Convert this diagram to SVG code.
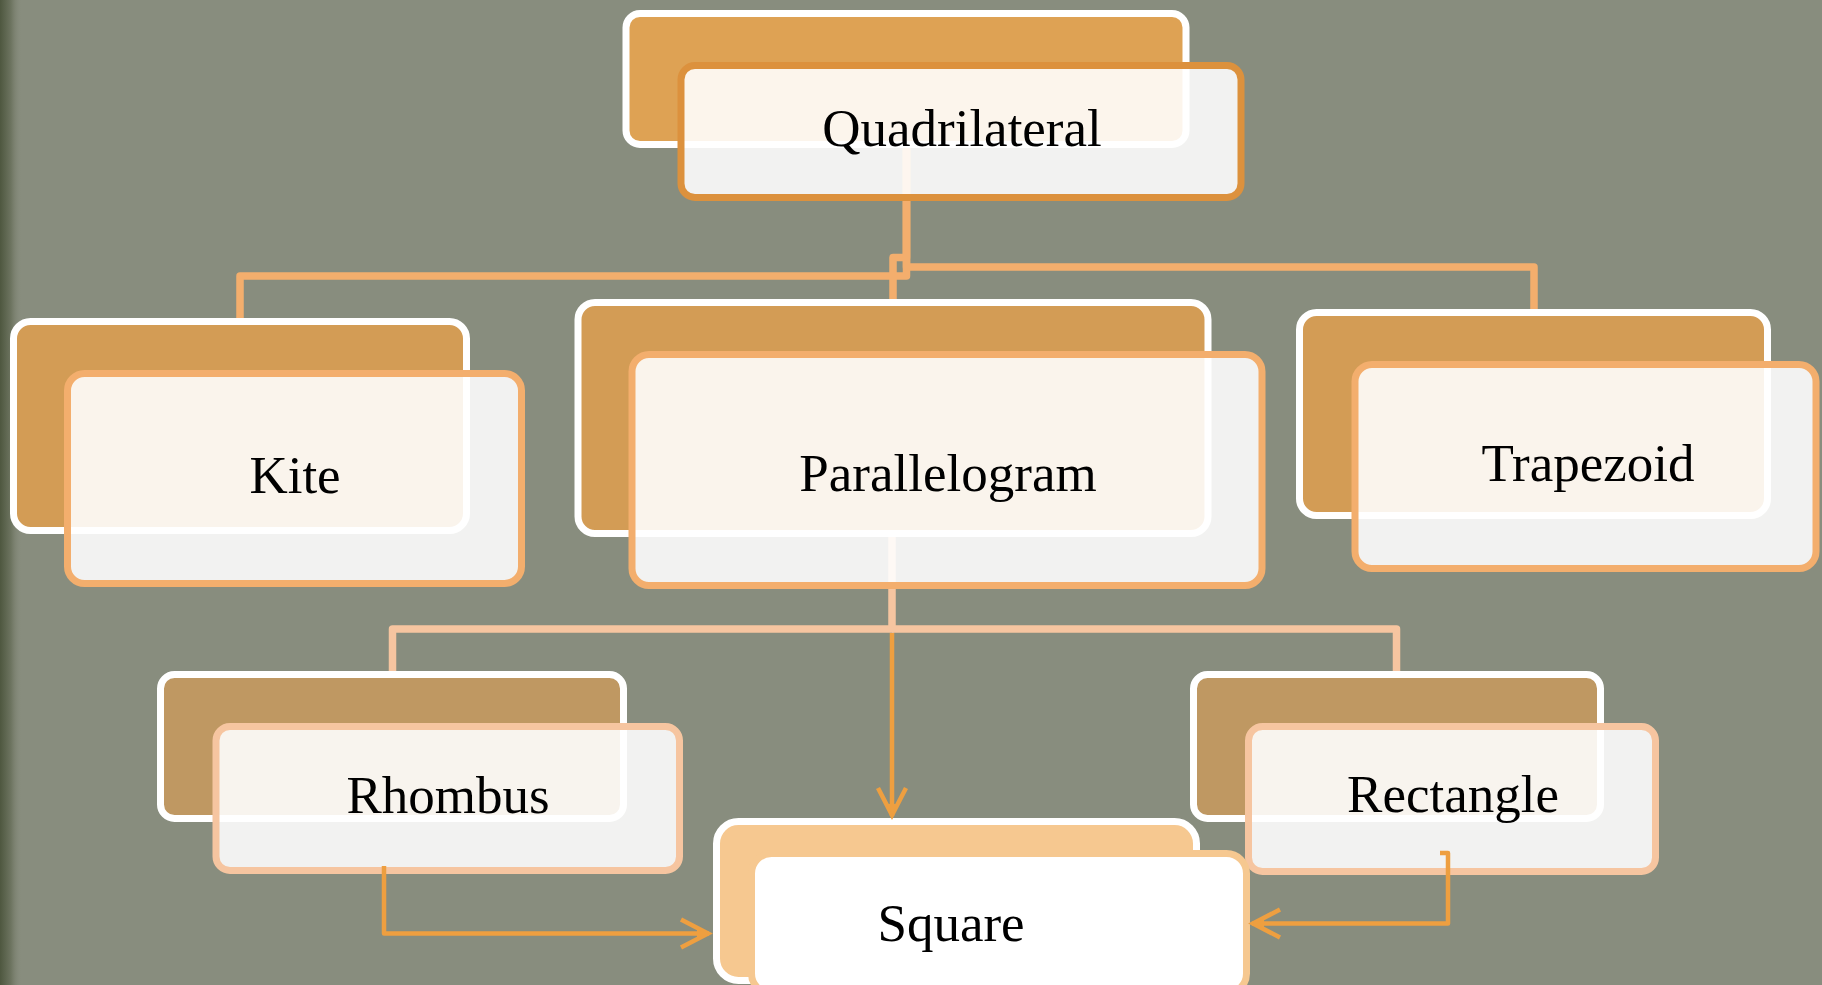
<svg xmlns="http://www.w3.org/2000/svg" width="1822" height="985" viewBox="0 0 1822 985">
  <defs>
    <linearGradient id="edge" x1="0" y1="0" x2="1" y2="0">
      <stop offset="0" stop-color="#4e573f"/>
      <stop offset="0.5" stop-color="#6d7460"/>
      <stop offset="1" stop-color="#888d7e" stop-opacity="0"/>
    </linearGradient>
    <marker id="arrow" markerUnits="userSpaceOnUse" viewBox="-32 -18 36 36" refX="0" refY="0" markerWidth="36" markerHeight="36" orient="auto">
      <path d="M-28,-14 L-1,0 L-28,14" fill="none" stroke="#ee9f40" stroke-width="4.5" stroke-linejoin="miter"/>
      <path d="M-12,-5 L0,0 L-12,5 Z" fill="#ee9f40"/>
    </marker>
    <style>
      .back { stroke: #ffffff; stroke-width: 7; }
      .front { fill: #ffffff; fill-opacity: 0.89; stroke-width: 7; }
      .l1 .back { fill: #d39c55; }
      .l1 .front { stroke: #f3ae6d; }
      .l2 .back { fill: #bf9862; }
      .l2 .front { stroke: #f6c5a0; }
      .label { font-family: "Liberation Serif", "Times New Roman", serif; font-size: 53px; fill: #000000; text-anchor: middle; }
      .conn1 { fill: none; stroke: #f3ae6d; stroke-width: 7.5; stroke-linejoin: round; }
      .conn2 { fill: none; stroke: #f6c5a0; stroke-width: 7.5; stroke-linejoin: round; }
      .arr { fill: none; stroke: #ee9f40; stroke-width: 4.5; stroke-linejoin: round; }
    </style>
  </defs>

  <rect x="0" y="0" width="1822" height="985" fill="#888d7e"/>
  <rect x="0" y="0" width="22" height="985" fill="url(#edge)"/>

  <g id="connectors">
    <path class="conn1" d="M906.5,140 V276 H240 V330"/>
    <path class="conn1" d="M906.5,140 V257.5 H893 V320"/>
    <path class="conn1" d="M906.5,140 V267 H1534 V330"/>
    <path class="conn2" d="M892,470 V629 H392.5 V680"/>
    <path class="conn2" d="M892,629 H1396.5 V680"/>
  </g>

  <g id="quadrilateral">
    <rect class="back" x="626" y="13.5" width="560" height="131" rx="14" fill="#dea254"/>
    <rect class="front" x="681" y="65.5" width="560" height="132" rx="14" stroke="#dc913d"/>
    <text class="label" x="962" y="146">Quadrilateral</text>
  </g>

  <g id="kite" class="l1">
    <rect class="back" x="13.5" y="321.5" width="453" height="209" rx="17"/>
    <rect class="front" x="67.5" y="373.5" width="454" height="210" rx="17"/>
    <text class="label" x="295" y="493">Kite</text>
  </g>

  <g id="parallelogram" class="l1">
    <rect class="back" x="578" y="302.5" width="630" height="231" rx="17"/>
    <rect class="front" x="632" y="354.5" width="630" height="231" rx="17"/>
    <text class="label" x="948" y="491">Parallelogram</text>
  </g>

  <g id="trapezoid" class="l1">
    <rect class="back" x="1299.5" y="312.5" width="468" height="203" rx="17"/>
    <rect class="front" x="1355" y="364.5" width="461" height="204" rx="17"/>
    <text class="label" x="1588" y="481">Trapezoid</text>
  </g>

  <g id="rhombus" class="l2">
    <rect class="back" x="160.5" y="674.5" width="463" height="144" rx="14"/>
    <rect class="front" x="216" y="726.5" width="463.5" height="144" rx="14"/>
    <text class="label" x="448" y="813">Rhombus</text>
  </g>

  <g id="rectangle" class="l2">
    <rect class="back" x="1193.5" y="674.5" width="407" height="144" rx="14"/>
    <rect class="front" x="1248.5" y="726.5" width="407" height="145" rx="14"/>
    <text class="label" x="1453" y="812">Rectangle</text>
  </g>

  <g id="square">
    <rect class="back" x="716.5" y="821.5" width="480" height="159" rx="22" fill="#f6c890"/>
    <rect x="751.5" y="853.5" width="495" height="140" rx="20" fill="#ffffff" stroke="#f6c890" stroke-width="7"/>
    <text class="label" x="951" y="941">Square</text>
  </g>

  <g id="arrows">
    <path class="arr" d="M892,633 V816" marker-end="url(#arrow)"/>
    <path class="arr" d="M384,866 V933.5 H709" marker-end="url(#arrow)"/>
    <path class="arr" d="M1440,853 H1448 V923.5 H1252" marker-end="url(#arrow)"/>
  </g>
</svg>
